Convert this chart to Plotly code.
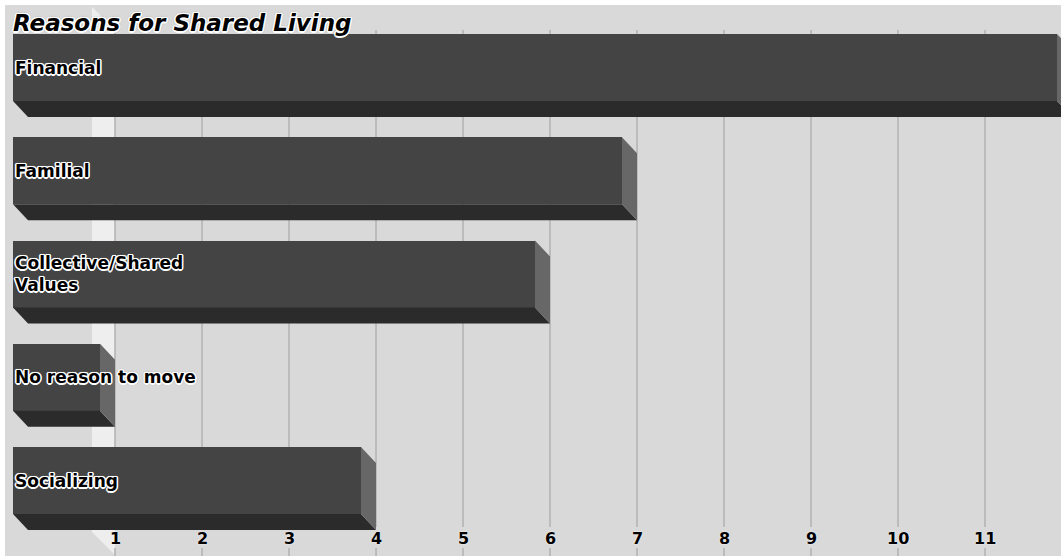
import plotly.graph_objects as go

# Reasons given for living in shared housing (number of respondents)
categories = ["Financial", "Familial", "Collective/Shared<br>Values",
              "No reason to move", "Socializing"]
values = [12, 7, 6, 1, 4]
tick_values = list(range(1, 12))

# Canvas geometry
W, H = 1061, 556
M_LEFT, M_TOP = 5, 5
PLOT_W, PLOT_H = W - M_LEFT, H - M_TOP
PX_PER_UNIT = 87.0          # horizontal pixels per value unit
ZERO_PX = 13.0              # pixel column of value 0 on the front faces
ROW_PX = 103.25             # vertical pixels between bars
ROW0_CENTER_PX = 67.5       # centre of the first bar's front face
FACE_PX = 67.0              # front-face height
DEPTH_X_PX, DEPTH_Y_PX = 15.0, 16.0   # 3D extrusion offset

x0 = (M_LEFT - ZERO_PX) / PX_PER_UNIT
x1 = x0 + PLOT_W / PX_PER_UNIT
y_top = (M_TOP - ROW0_CENTER_PX) / ROW_PX
y_bot = (H - ROW0_CENTER_PX) / ROW_PX
bar_w = FACE_PX / ROW_PX
dx = DEPTH_X_PX / PX_PER_UNIT
dy = DEPTH_Y_PX / ROW_PX


def paper_y(px):
    return (H - px) / PLOT_H


BG = "#d9d9d9"
FRONT = "#444444"
BOTTOM = "#2b2b2b"
SIDE = "#676767"
GRID = "#b4b4b4"
WALL = "#eeeeee"
OUTLINE = ("1px 1px 0 #fff, -1px -1px 0 #fff, 1px -1px 0 #fff, -1px 1px 0 #fff, "
           "0 1.5px 0 #fff, 0 -1.5px 0 #fff, 1.5px 0 0 #fff, -1.5px 0 0 #fff, "
           "0 0 3px #888")

idx = list(range(len(categories)))

# extruded faces (bottom and right side) for each bar
bx, by, sx, sy = [], [], [], []
for i, v in zip(idx, values):
    top, bot = i - bar_w / 2, i + bar_w / 2
    bx += [0, v, v + dx, dx, 0, None]
    by += [bot, bot, bot + dy, bot + dy, bot, None]
    sx += [v, v + dx, v + dx, v, v, None]
    sy += [top, top + dy, bot + dy, bot, top, None]

fig = go.Figure()
fig.add_trace(go.Scatter(x=bx, y=by, fill="toself", fillcolor=BOTTOM,
                         mode="lines", line=dict(width=0), hoverinfo="skip"))
fig.add_trace(go.Scatter(x=sx, y=sy, fill="toself", fillcolor=SIDE,
                         mode="lines", line=dict(width=0), hoverinfo="skip"))
fig.add_trace(go.Bar(x=values, y=idx, orientation="h", width=bar_w, base=0,
                     marker=dict(color=FRONT, line=dict(width=0)),
                     hovertext=[c.replace("<br>", " ") for c in categories],
                     hoverinfo="text+x"))

shapes = []
# light side wall beside the first gridline
wl = (92 - ZERO_PX) / PX_PER_UNIT
wr = 1 + dx
shapes.append(dict(
    type="path", xref="x", yref="paper", layer="below",
    path=(f"M {wl},{paper_y(7)} L {wr},{paper_y(30)} L {wr},{paper_y(555)} "
          f"L {wl},{paper_y(532)} Z"),
    fillcolor=WALL, line=dict(width=0)))
# back-wall gridlines, broken where the tick labels sit
for t in tick_values:
    for ya, yb in ((30, 527), (548, H)):
        shapes.append(dict(type="line", xref="x", yref="paper", layer="below",
                           x0=t + dx, x1=t + dx, y0=paper_y(yb), y1=paper_y(ya),
                           line=dict(color=GRID, width=1.6)))

annotations = []
for t in tick_values:
    annotations.append(dict(
        x=t + dx, y=paper_y(538), xref="x", yref="paper", text=str(t),
        showarrow=False, xanchor="center", yanchor="middle",
        font=dict(family="DejaVu Sans", size=16, color="#000", weight="bold",
                  shadow="0 0 2px #fff")))
for i, c in zip(idx, categories):
    annotations.append(dict(
        x=0, y=i, xref="x", yref="y", text=c, showarrow=False,
        xanchor="left", yanchor="middle", align="left", xshift=0,
        font=dict(family="DejaVu Sans", size=17, color="#000", weight="bold",
                  shadow=OUTLINE)))
annotations.append(dict(
    x=0, y=1, xref="paper", yref="paper", text="Reasons for Shared Living",
    showarrow=False, xanchor="left", yanchor="top", xshift=6, yshift=-3,
    font=dict(family="DejaVu Sans", size=23, color="#000", weight="bold",
              style="italic", shadow=OUTLINE)))

fig.update_layout(
    width=W, height=H, margin=dict(l=M_LEFT, r=0, t=M_TOP, b=0, pad=0),
    paper_bgcolor="#ffffff", plot_bgcolor=BG, showlegend=False, bargap=0,
    xaxis=dict(range=[x0, x1], showgrid=False, zeroline=False,
               showticklabels=False, ticks="", fixedrange=True),
    yaxis=dict(range=[y_bot, y_top], showgrid=False, zeroline=False,
               showticklabels=False, ticks="", fixedrange=True),
    shapes=shapes, annotations=annotations,
)

fig.write_html("out.html")
